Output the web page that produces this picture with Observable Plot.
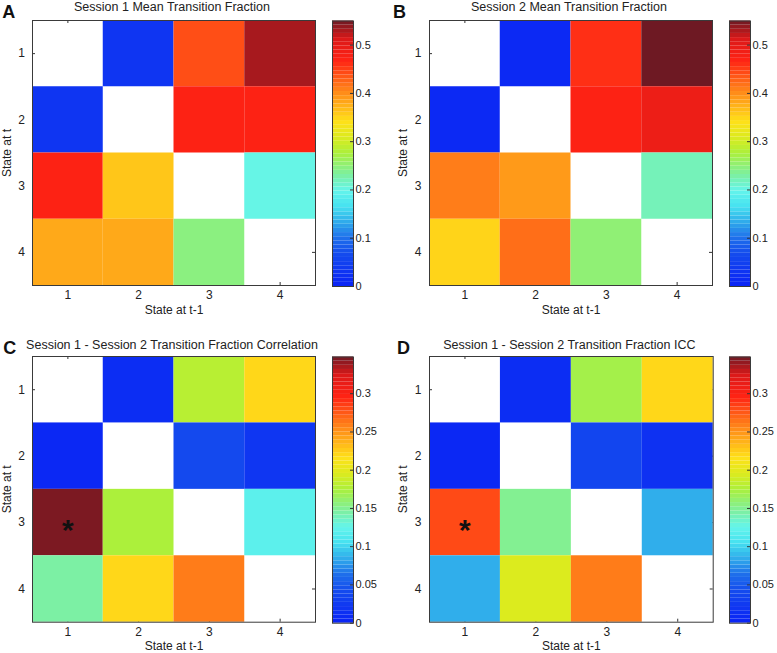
<!DOCTYPE html>
<html><head><meta charset="utf-8">
<script src="https://cdn.jsdelivr.net/npm/d3@7"></script>
<script src="https://cdn.jsdelivr.net/npm/@observablehq/plot@0.6"></script>
<style>
body{margin:0;background:#fff;}
#root{position:relative;width:777px;height:653px;overflow:hidden;font-family:"Liberation Sans",Arial,sans-serif;}
#root svg{position:absolute;}
</style></head><body><div id="root"></div>
<script>
// ---- data ----
const states = [1, 2, 3, 4];
const titles = [
  "Session 1 Mean Transition Fraction",
  "Session 2 Mean Transition Fraction",
  "Session 1 - Session 2 Transition Fraction Correlation",
  "Session 1 - Session 2 Transition Fraction ICC"
];
const letters = ["A", "B", "C", "D"];
// rows: state at t (1..4), columns: state at t-1 (1..4); diagonal is empty
const session1Mean = [
  [null, 0.03, 0.44, 0.53],
  [0.03, null, 0.47, 0.47],
  [0.47, 0.36, null, 0.20],
  [0.38, 0.38, 0.245, null]
];
const session2Mean = [
  [null, 0.01, 0.46, 0.55],
  [0.01, null, 0.47, 0.49],
  [0.41, 0.39, null, 0.22],
  [0.35, 0.42, 0.25, null]
];
const correlation = [
  [null, 0.01, 0.18, 0.22],
  [0.005, null, 0.04, 0.02],
  [0.345, 0.175, null, 0.12],
  [0.145, 0.22, 0.26, null]
];
const icc = [
  [null, 0.01, 0.17, 0.22],
  [0.005, null, 0.035, 0.015],
  [0.28, 0.15, null, 0.085],
  [0.085, 0.195, 0.26, null]
];
const starsCD = [{row: 3, col: 1}];
const cbTicksMean = [0, 0.1, 0.2, 0.3, 0.4, 0.5];
const cbTicksCorr = [0, 0.05, 0.1, 0.15, 0.2, 0.25, 0.3];
const cbMaxMean = 0.55;
const cbMaxCorr = 0.348;
// jet-like colormap stops (fraction of range) and colours
const cmapStops = [0, 0.12, 0.18, 0.25, 0.30, 0.36, 0.42, 0.50, 0.56, 0.62, 0.74, 0.85, 0.93, 1];
const cmapColors = ["rgb(10,35,245)", "rgb(20,75,238)", "rgb(30,110,235)", "rgb(50,180,235)", "rgb(70,225,240)",
  "rgb(100,245,235)", "rgb(125,240,160)", "rgb(170,240,60)", "rgb(220,235,30)", "rgb(255,225,25)",
  "rgb(255,130,25)", "rgb(255,35,20)", "rgb(220,25,25)", "rgb(110,25,35)"];
const cbLevels = d3.range(64);

// ---- layout ----
const panels = [
  {values: session1Mean, max: cbMaxMean, ticks: cbTicksMean, stars: [],
   left: 0, top: 0, x0: 32, x1: 315, y0: 20, y1: 285, cbx0: 332, cbx1: 353, titleDy: -9.3, letterDx: -30.3, ylabOff: 30, ytickPad: 7.5},
  {values: session2Mean, max: cbMaxMean, ticks: cbTicksMean, stars: [],
   left: 390, top: 0, x0: 429, x1: 712, y0: 20, y1: 285, cbx0: 729, cbx1: 750, titleDy: -9.3, letterDx: -36.5, ylabOff: 31, ytickPad: 8},
  {values: correlation, max: cbMaxCorr, ticks: cbTicksCorr, stars: starsCD,
   left: 0, top: 325, x0: 32, x1: 315, y0: 356, y1: 621.7, cbx0: 332, cbx1: 353, titleDy: -8, letterDx: -29.3, ylabOff: 30, ytickPad: 7.5},
  {values: icc, max: cbMaxCorr, ticks: cbTicksCorr, stars: starsCD,
   left: 390, top: 325, x0: 429, x1: 712.7, y0: 356, y1: 621.7, cbx0: 729, cbx1: 750, titleDy: -8, letterDx: -32.5, ylabOff: 31, ytickPad: 8}
];

const root = document.getElementById("root");
const ink = "#333";

panels.forEach((p, k) => {
  const cells = [];
  p.values.forEach((row, i) => row.forEach((v, j) => {
    if (v != null) cells.push({row: states[i], col: states[j], v});
  }));
  const color = {type: "linear", domain: cmapStops.map(s => s * p.max), range: cmapColors, interpolate: "rgb"};
  const W = Math.round(p.x1 + 15 - p.left);
  const H = Math.round(p.y1 + 31 - p.top);
  const pw = p.x1 - p.x0, ph = p.y1 - p.y0;
  const tl = 3;
  const svg = Plot.plot({
    width: W, height: H,
    marginLeft: p.x0 - p.left, marginRight: p.left + W - p.x1,
    marginTop: p.y0 - p.top, marginBottom: p.top + H - p.y1,
    style: {background: "none", fontFamily: "'Liberation Sans', Arial, sans-serif", fontSize: "12px", color: "#222", overflow: "visible"},
    x: {domain: [0.5, 4.5], axis: null},
    y: {domain: [4.5, 0.5], axis: null},
    color,
    marks: [
      Plot.tickX(states, {x: d => d, insetTop: ph - tl, stroke: ink}),
      Plot.tickX(states, {x: d => d, insetBottom: ph - tl, stroke: ink}),
      Plot.tickY(states, {y: d => d, insetRight: pw - tl, stroke: ink}),
      Plot.tickY(states, {y: d => d, insetLeft: pw - tl, stroke: ink}),
      Plot.rect(cells, {x1: d => d.col - 0.5, x2: d => d.col + 0.5, y1: d => d.row - 0.5, y2: d => d.row + 0.5, fill: "v"}),
      Plot.frame({stroke: "#3a3a3a"}),
      Plot.axisX(states, {anchor: "bottom", tickSize: 0, tickPadding: 5, tickFormat: d => String(d),
        label: "State at t-1", labelAnchor: "center", labelOffset: 28, labelArrow: "none", fontSize: 12}),
      Plot.axisY(states, {anchor: "left", tickSize: 0, tickPadding: p.ytickPad, tickFormat: d => String(d),
        label: "State at t", labelAnchor: "center", labelOffset: p.ylabOff, labelArrow: "none", fontSize: 12}),
      Plot.text([titles[k]], {text: d => d, frameAnchor: "top", dx: -2, dy: p.titleDy, lineAnchor: "bottom", fontSize: 12.5, fill: "#222"}),
      Plot.text([letters[k]], {text: d => d, frameAnchor: "top-left", textAnchor: "start", dx: p.letterDx, dy: -2.7, lineAnchor: "bottom", fontSize: 18, fontWeight: "bold", fill: "#111"}),
      Plot.text(p.stars, {x: "col", y: "row", text: () => "*", fontSize: 30, fontWeight: "bold", dy: 8, fill: "#111"})
    ]
  });
  svg.style.left = p.left + "px";
  svg.style.top = p.top + "px";
  root.appendChild(svg);

  // colour bar
  const cbw = p.cbx1 - p.cbx0;
  const step = p.max / cbLevels.length;
  const cb = Plot.plot({
    width: Math.round(cbw + 32), height: H,
    marginLeft: 0, marginRight: Math.round(cbw + 32) - cbw,
    marginTop: p.y0 - p.top + 0.5, marginBottom: p.top + H - p.y1 - 1,
    style: {background: "none", fontFamily: "'Liberation Sans', Arial, sans-serif", fontSize: "11px", color: "#222", overflow: "visible"},
    x: {axis: null},
    y: {domain: [0, p.max], axis: null},
    color,
    marks: [
      Plot.rect(cbLevels, {y1: i => i * step, y2: i => (i + 1) * step, fill: i => (i + 0.5) * step}),
      Plot.tickY(p.ticks, {y: d => d, insetLeft: cbw - 3, stroke: ink}),
      Plot.frame({stroke: "#3a3a3a"}),
      Plot.axisY(p.ticks, {anchor: "right", tickSize: 0, tickPadding: 2, tickFormat: d => String(d), label: null, fontSize: 11})
    ]
  });
  cb.style.left = p.cbx0 + "px";
  cb.style.top = p.top + "px";
  root.appendChild(cb);
});
</script>
</body></html>
